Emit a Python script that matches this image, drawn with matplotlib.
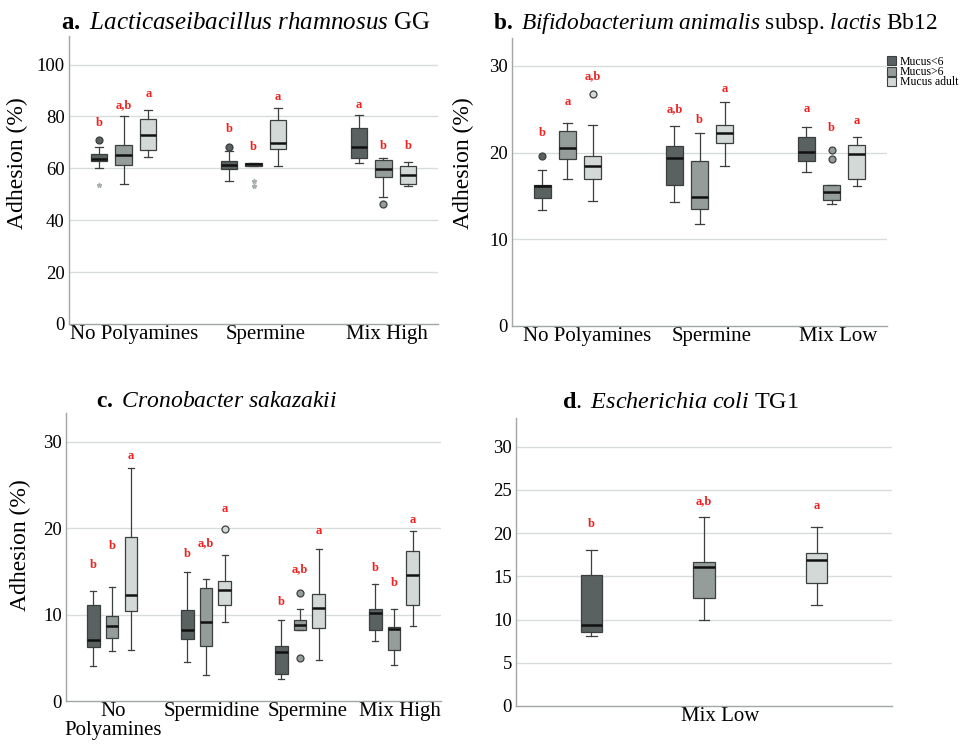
import numpy as np
import matplotlib
matplotlib.use('Agg')
import matplotlib.pyplot as plt
import matplotlib.transforms as mtransforms
from matplotlib.patches import Patch

plt.rcParams['font.family'] = ['Liberation Serif', 'DejaVu Serif']
plt.rcParams['mathtext.fontset'] = 'custom'
plt.rcParams['mathtext.rm'] = 'Liberation Serif'
plt.rcParams['mathtext.it'] = 'Liberation Serif:italic'
plt.rcParams['mathtext.bf'] = 'Liberation Serif:bold'

SERIES = ['Mucus<6', 'Mucus>6', 'Mucus adult']
COLORS = ['#5a6161', '#949d9a', '#d3d9d7']

# ---- panel a: L. rhamnosus GG (per category: <6, >6, adult)
A_CATS = ['No Polyamines', 'Spermine', 'Mix High']
A_LOW = [[60.1, 54.0, 64.4], [55.2, 60.8, 60.8], [61.9, 49.0, 53.1]]
A_Q1 = [[62.9, 61.4, 67.1], [59.7, 60.8, 67.4], [64.1, 56.5, 53.8]]
A_MED = [[63.7, 65.2, 72.9], [61.1, 61.6, 69.8], [68.3, 59.9, 57.5]]
A_Q3 = [[65.6, 69.1, 78.9], [63.0, 62.1, 78.7], [75.5, 63.2, 61.0]]
A_HIGH = [[68.4, 80.0, 82.3], [66.6, 62.1, 83.3], [80.7, 64.1, 62.6]]
A_OUT = [[[71.1], [], []], [[68.3], [], []], [[], [46.1], []]]
A_STAR = [[[53.4], [], []], [[], [55.3, 53.3], []], [[], [], []]]
A_LET = [['b', 'a,b', 'a'], ['b', 'b', 'a'], ['a', 'b', 'b']]
A_LET_Y = [[77.3, 84.5, 88.7], [75.0, 68.3, 87.5], [84.3, 68.5, 68.5]]

# ---- panel b: B. animalis subsp. lactis Bb12
B_CATS = ['No Polyamines', 'Spermine', 'Mix Low']
B_LOW = [[13.4, 17.0, 14.4], [14.3, 11.8, 18.5], [17.7, 14.05, 16.1]]
B_Q1 = [[14.8, 19.25, 16.9], [16.25, 13.5, 21.1], [19.0, 14.5, 17.0]]
B_MED = [[16.1, 20.5, 18.4], [19.4, 14.9, 22.2], [20.1, 15.4, 19.8]]
B_Q3 = [[16.2, 22.45, 19.6], [20.8, 19.0, 23.2], [21.8, 16.2, 20.9]]
B_HIGH = [[18.0, 23.4, 23.2], [23.0, 22.3, 25.8], [22.9, 16.2, 21.8]]
B_OUT = [[[19.6], [], [26.8]], [[], [], []], [[], [20.3, 19.2], []]]
B_LET = [['b', 'a', 'a,b'], ['a,b', 'b', 'a'], ['a', 'b', 'a']]
B_LET_Y = [[22.3, 25.8, 28.8], [25.0, 23.7, 27.3], [25.0, 22.8, 23.6]]

# ---- panel c: C. sakazakii
C_CATS = ['No\nPolyamines', 'Spermidine', 'Spermine', 'Mix High']
C_LOW = [[4.0, 5.8, 5.9], [4.5, 3.0, 9.1], [2.5, 8.2, 4.7], [6.9, 4.2, 8.7]]
C_Q1 = [[6.2, 7.3, 10.4], [7.2, 6.4, 11.1], [3.1, 8.2, 8.4], [8.2, 5.9, 11.1]]
C_MED = [[7.0, 8.7, 12.2], [8.2, 9.1, 12.8], [5.7, 8.8, 10.7], [10.2, 8.3, 14.6]]
C_Q3 = [[11.1, 9.8, 19.0], [10.5, 13.1, 13.9], [6.4, 9.4, 12.4], [10.6, 8.5, 17.4]]
C_HIGH = [[12.7, 13.2, 26.9], [14.9, 14.1, 16.9], [9.4, 10.6, 17.6], [13.5, 10.6, 19.7]]
C_OUT = [[[], [], []], [[], [], [19.9]], [[], [12.5, 5.0], []], [[], [], []]]
C_LET = [['b', 'b', 'a'], ['b', 'a,b', 'a'], ['b', 'a,b', 'a'], ['b', 'b', 'a']]
C_LET_Y = [[15.7, 17.9, 28.3], [17.0, 18.3, 22.2], [11.4, 15.2, 19.6], [15.4, 13.6, 20.9]]

# ---- panel d: E. coli TG1
D_CATS = ['Mix Low']
D_LOW = [[8.1, 9.95, 11.65]]
D_Q1 = [[8.56, 12.5, 14.2]]
D_MED = [[9.37, 16.1, 16.85]]
D_Q3 = [[15.1, 16.6, 17.7]]
D_HIGH = [[18.05, 21.8, 20.7]]
D_OUT = [[[], [], []]]
D_LET = [['b', 'a,b', 'a']]
D_LET_Y = [[21.1, 23.7, 23.1]]

W, H = 964, 745
fig = plt.figure(figsize=(W / 100, H / 100), dpi=100)


def px_axes(l, t, r, b):
    return fig.add_axes([l / W, 1 - b / H, (r - l) / W, (b - t) / H])


def draw_panel(ax, cats, low, q1, med, q3, high, out, lets, let_y,
               offset, width, yticks, ylim, xlim, label_shift, stars=None):
    for s in range(3):
        stats = []
        for c in range(len(cats)):
            stats.append(dict(whislo=low[c][s], q1=q1[c][s], med=med[c][s],
                              q3=q3[c][s], whishi=high[c][s], fliers=out[c][s]))
        pos = np.arange(len(cats)) + (s - 1) * offset
        ax.bxp(stats, positions=pos, widths=width, patch_artist=True,
               showfliers=True, manage_ticks=False,
               boxprops=dict(facecolor=COLORS[s], edgecolor='#3c3f3f', linewidth=0.9),
               medianprops=dict(color='#111111', linewidth=1.8),
               whiskerprops=dict(color='#3c3f3f', linewidth=0.9),
               capprops=dict(color='#3c3f3f', linewidth=0.9),
               capwidths=width * 0.5,
               flierprops=dict(marker='o', markersize=5, markerfacecolor=COLORS[s],
                               markeredgecolor='#3c3f3f', markeredgewidth=0.9))
        for c in range(len(cats)):
            ax.text(pos[c], let_y[c][s], lets[c][s], color='#ee2222',
                    fontsize=9, fontweight='bold', ha='center', va='center')
            if stars is not None and stars[c][s]:
                ax.plot([pos[c]] * len(stars[c][s]), stars[c][s], ls='none',
                        marker='*', markersize=3.5, color='#a9b0ae')
    ax.set_xlim(*xlim)
    ax.set_ylim(*ylim)
    ax.set_yticks(yticks)
    ax.set_xticks(np.arange(len(cats)))
    ax.set_xticklabels(cats, fontsize=15, linespacing=1.0)
    ax.tick_params(axis='y', labelsize=13.5, length=0, pad=3)
    ax.tick_params(axis='x', length=0, pad=1)
    # category labels sit a little right of the box groups in the original
    for lab, dx in zip(ax.get_xticklabels(), label_shift):
        lab.set_transform(lab.get_transform() +
                          mtransforms.ScaledTranslation(dx / 100, 0, fig.dpi_scale_trans))
    for y in yticks[1:]:
        ax.axhline(y, color='#d8dddc', linewidth=1.0, zorder=0)
    for sp in ['top', 'right']:
        ax.spines[sp].set_visible(False)
    for sp in ['left', 'bottom']:
        ax.spines[sp].set_color('#a3a6a6')
        ax.spines[sp].set_linewidth(1.0)


axa = px_axes(69, 36, 438, 324)
draw_panel(axa, A_CATS, A_LOW, A_Q1, A_MED, A_Q3, A_HIGH, A_OUT, A_LET, A_LET_Y,
           0.19, 0.125, [0, 20, 40, 60, 80, 100], (0, 111), (-0.42, 2.42),
           [11, 12, 4], stars=A_STAR)

axb = px_axes(512, 38, 887, 326)
draw_panel(axb, B_CATS, B_LOW, B_Q1, B_MED, B_Q3, B_HIGH, B_OUT, B_LET, B_LET_Y,
           0.19, 0.125, [0, 10, 20, 30], (0, 33.2), (-0.42, 2.42), [20, 12, 7])

axc = px_axes(66, 413, 441, 701)
draw_panel(axc, C_CATS, C_LOW, C_Q1, C_MED, C_Q3, C_HIGH, C_OUT, C_LET, C_LET_Y,
           0.2, 0.135, [0, 10, 20, 30], (0, 33.3), (-0.49, 3.5), [1, 6, 8, 6])

axd = px_axes(516, 418, 892, 706)
draw_panel(axd, D_CATS, D_LOW, D_Q1, D_MED, D_Q3, D_HIGH, D_OUT, D_LET, D_LET_Y,
           1.0, 0.19, [0, 5, 10, 15, 20, 25, 30], (0, 33.3), (-1.67, 1.67), [16])

for ax, x, y in [(axa, 17, 163), (axb, 463, 163), (axc, 20, 545)]:
    fig.text(x / W, 1 - y / H, 'Adhesion (%)', fontsize=17, rotation=90,
             ha='center', va='center')

titles = [
    (246, 29, 18, r'$\mathbf{a.}$ $\mathit{Lacticaseibacillus\ rhamnosus}$ GG'),
    (715, 29, 16.8, r'$\mathbf{b.}$ $\mathit{Bifidobacterium\ animalis}$ subsp. $\mathit{lactis}$ Bb12'),
    (217, 407, 17, r'$\mathbf{c.}$ $\mathit{Cronobacter\ sakazakii}$'),
    (680, 408, 17.4, r'$\mathbf{d}.$ $\mathit{Escherichia\ coli}$ TG1'),
]
for x, y, fs, t in titles:
    fig.text(x / W, 1 - y / H, t, fontsize=fs, ha='center', va='baseline')

handles = [Patch(facecolor=COLORS[i], edgecolor='#3c3f3f', linewidth=0.8, label=SERIES[i])
           for i in range(3)]
fig.legend(handles=handles, loc='upper left', bbox_to_anchor=(887 / W, 1 - 56 / H),
           frameon=False, fontsize=8.5, handlelength=0.8, handleheight=0.8,
           handletextpad=0.3, labelspacing=-0.15, borderaxespad=0, borderpad=0)

fig.savefig('out.png', dpi=100)
